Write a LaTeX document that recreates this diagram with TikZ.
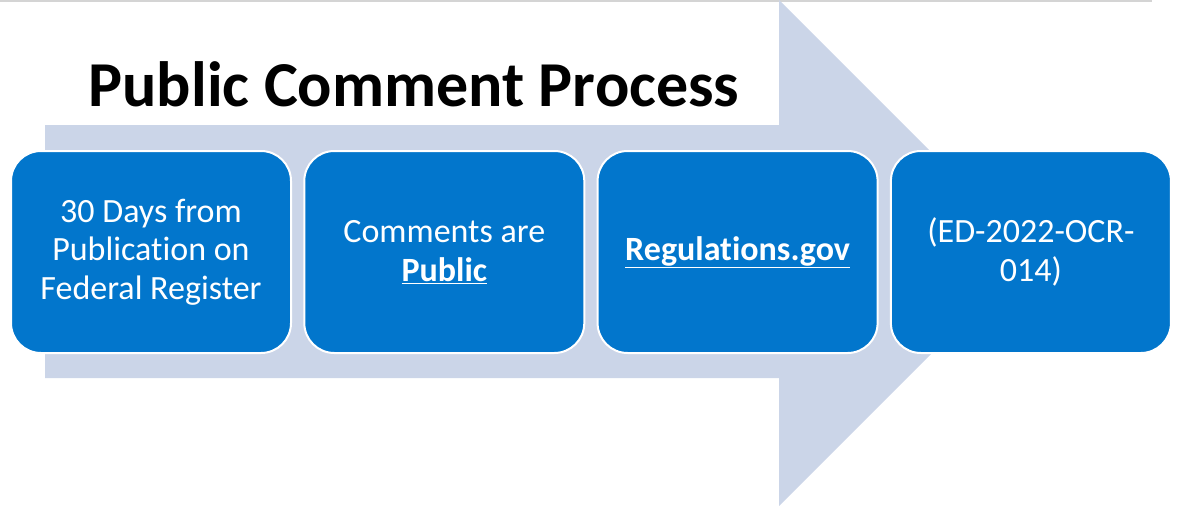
\documentclass[tikz,border=0pt]{standalone}
\usepackage{fontspec}
\setmainfont{Carlito}[Ligatures=NoCommon]
\usepackage{tikz}
\usetikzlibrary{positioning}
\definecolor{stage_blue}{RGB}{2,118,204}
\definecolor{arrow_grey}{RGB}{203,213,232}
\definecolor{rule_grey}{RGB}{212,212,212}

\begin{document}
\begin{tikzpicture}[x=1pt,y=-1pt,
        stage/.style={draw=white, line width=2pt, fill=stage_blue, rounded corners=30pt,
            minimum width=280pt, minimum height=202pt, inner sep=0pt,
            text=white, align=center, font=\fontsize{34}{38.5}\selectfont}]

    \useasboundingbox (0,0) rectangle (1181,506);
    \draw[rule_grey, line width=1.5pt] (0,1) -- (1152,1);

    % big arrow in the back
    \fill[arrow_grey] (45,125) -- (779,125) -- (779,0) -- (1032,253)
        -- (779,506) -- (779,378) -- (45,378) -- cycle;

    \node[anchor=base, inner sep=0pt, font=\fontsize{64}{68}\selectfont\bfseries]
        (title) at (414,106) {Public Comment Process};

    \node[stage] (days) at (151,252) {30 Days from\\Publication on\\Federal Register};
    \node[stage, right=11.3pt of days] (public) {Comments are\\\textbf{\underline{Public}}};
    \node[stage, right=11.3pt of public] (site) {\textbf{\underline{Regulations.gov}}};
    \node[stage, right=11.3pt of site] (docket) {(ED-2022-OCR-\\014)};
\end{tikzpicture}
\end{document}
